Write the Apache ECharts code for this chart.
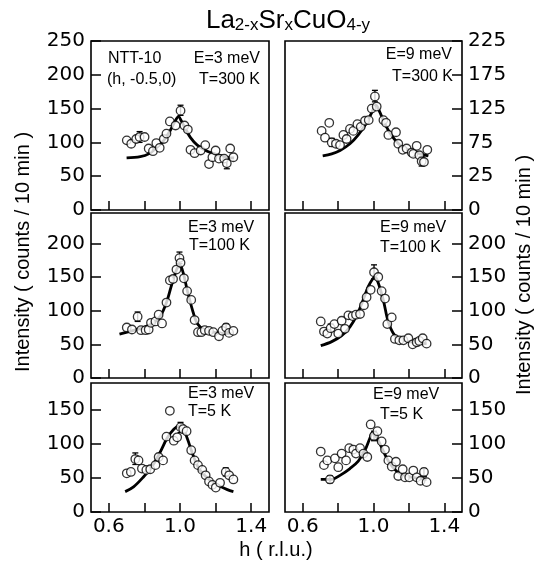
<!DOCTYPE html>
<html>
<head>
<meta charset="utf-8">
<script src="https://cdn.jsdelivr.net/npm/echarts@6/dist/echarts.min.js"></script>
<style>html,body{margin:0;padding:0;background:#fff}#c{width:536px;height:565px}</style>
</head>
<body>
<div id="c"></div>
<script>
// ---- data (h in r.l.u., intensity in counts/10 min, axis units) ----
const xTicks = [0.6, 0.8, 1.0, 1.2, 1.4];
const xLabels = [0.6, 1.0, 1.4];
const yTicksTop = [0, 50, 100, 150, 200, 250];
const yTicksMid = [0, 50, 100, 150, 200];
const yTicksBot = [0, 50, 100, 150];
const yLabelsTopRight = ['0', '25', '75', '125', '175', '225'];

// Panel TL: E=3 meV, T=300 K
const tlPoints = [[0.701,103],[0.726,98],[0.754,105],[0.773,108],[0.801,108],[0.824,91],[0.848,87],[0.867,99],[0.886,92],[0.909,105],[0.924,113],[0.943,131],[0.975,125],[1.003,147],[1.025,125],[1.044,119],[1.059,89],[1.082,84],[1.116,88],[1.142,96],[1.163,68],[1.182,78],[1.200,88],[1.219,76],[1.248,76],[1.263,69],[1.282,91],[1.300,78]];
const tlFit = [[0.70,77],[0.777,79],[0.824,83],[0.871,93],[0.909,103],[0.946,118],[0.980,135],[0.992,138],[1.007,132],[1.031,120],[1.059,107],[1.097,96],[1.153,87],[1.21,82],[1.266,78],[1.304,77]];
const tlErr = [[0.773,100,116],[1.003,140,155],[1.263,61,75]];

// Panel TR: E=9 meV, T=300 K
const trPoints = [[0.707,117],[0.726,107],[0.750,129],[0.764,100],[0.788,98],[0.811,96],[0.830,111],[0.848,105],[0.867,120],[0.886,117],[0.909,127],[0.928,123],[0.952,132],[0.973,133],[0.990,150],[1.008,168],[1.018,153],[1.056,133],[1.071,129],[1.084,111],[1.127,115],[1.140,98],[1.165,89],[1.187,91],[1.216,85],[1.225,83],[1.244,95],[1.259,81],[1.272,72],[1.285,71],[1.304,89]];
const trFit = [[0.713,80],[0.764,83],[0.811,88],[0.867,98],[0.914,111],[0.961,129],[0.990,144],[1.014,155],[1.037,144],[1.065,127],[1.103,110],[1.150,96],[1.206,88],[1.263,83],[1.310,80]];
const trErr = [[0.764,94,106],[1.008,160,177],[1.272,65,79]];

// Panel ML: E=3 meV, T=100 K
const mlPoints = [[0.701,75],[0.730,72],[0.762,91],[0.781,71],[0.807,71],[0.824,72],[0.837,82],[0.862,84],[0.880,94],[0.899,81],[0.924,112],[0.943,145],[0.961,147],[0.980,161],[0.997,178],[1.003,171],[1.022,148],[1.040,129],[1.063,116],[1.082,86],[1.101,68],[1.120,68],[1.139,71],[1.163,70],[1.187,68],[1.219,62],[1.238,70],[1.259,75],[1.276,67],[1.300,70]];
const mlFit = [[0.660,65],[0.730,70],[0.796,75],[0.852,82],[0.890,92],[0.924,112],[0.956,141],[0.984,163],[0.999,168],[1.018,156],[1.040,131],[1.069,102],[1.097,81],[1.135,72],[1.191,68],[1.248,66],[1.300,67]];
const mlErr = [[0.762,84,98],[0.997,170,187],[1.259,70,80]];

// Panel MR: E=9 meV, T=100 K
const mrPoints = [[0.702,84],[0.720,69],[0.739,66],[0.758,74],[0.779,80],[0.801,66],[0.820,85],[0.839,73],[0.858,93],[0.882,92],[0.901,94],[0.924,95],[0.946,108],[0.961,120],[0.984,131],[1.003,157],[1.027,150],[1.046,129],[1.065,118],[1.078,80],[1.103,90],[1.121,58],[1.146,56],[1.169,56],[1.197,59],[1.221,50],[1.244,53],[1.259,55],[1.278,59],[1.300,51]];
const mrFit = [[0.702,48],[0.764,54],[0.820,63],[0.867,76],[0.909,95],[0.943,117],[0.971,136],[0.995,147],[1.008,150],[1.027,141],[1.056,115],[1.084,83],[1.121,63],[1.169,56],[1.225,53],[1.300,51]];
const mrErr = [[0.758,69,80],[1.003,147,168],[1.244,48,58]];

// Panel BL: E=3 meV, T=5 K
const blPoints = [[0.701,57],[0.724,59],[0.749,78],[0.767,76],[0.786,64],[0.811,62],[0.833,63],[0.862,69],[0.880,81],[0.905,76],[0.924,111],[0.943,149],[0.965,105],[0.984,110],[1.003,125],[1.018,122],[1.037,119],[1.063,91],[1.082,76],[1.101,69],[1.125,62],[1.144,54],[1.163,45],[1.182,40],[1.201,36],[1.225,43],[1.257,59],[1.276,54],[1.300,48]];
const blFit = [[0.692,30],[0.739,37],[0.796,52],[0.843,67],[0.890,89],[0.928,109],[0.965,122],[0.993,126],[1.018,122],[1.040,109],[1.069,87],[1.106,64],[1.153,50],[1.210,40],[1.266,33],[1.300,30]];
const blErr = [[0.749,70,87],[1.003,117,132],[1.257,53,65]];

// Panel BR: E=9 meV, T=5 K
const brPoints = [[0.702,89],[0.720,69],[0.739,76],[0.754,48],[0.782,79],[0.801,66],[0.820,86],[0.845,76],[0.863,94],[0.886,92],[0.901,86],[0.924,94],[0.943,86],[0.965,81],[0.984,129],[1.003,112],[1.022,119],[1.046,104],[1.065,92],[1.084,76],[1.103,67],[1.127,74],[1.140,53],[1.165,63],[1.178,51],[1.202,51],[1.225,61],[1.244,51],[1.266,46],[1.285,59],[1.300,44]];
const brFit = [[0.702,48],[0.764,48],[0.811,54],[0.867,64],[0.914,75],[0.952,91],[0.980,109],[0.995,117],[1.014,112],[1.046,95],[1.084,75],[1.131,60],[1.187,53],[1.244,50],[1.300,48]];
const brErr = [[0.754,43,53],[1.003,105,119],[1.285,52,64]];

const panelTexts = [
  ['NTT-10', '(h, -0.5,0)', 'E=3 meV', 'T=300 K'],
  ['E=9 meV', 'T=300 K'],
  ['E=3 meV', 'T=100 K'],
  ['E=9 meV', 'T=100 K'],
  ['E=3 meV', 'T=5 K'],
  ['E=9 meV', 'T=5 K']
];

// ---- layout ----
const NUM_FONT = 'DejaVu Sans';
const TXT_FONT = 'Liberation Sans';
const cols = [{left: 91, width: 178}, {left: 285, width: 177}];
const rows = [{top: 41, height: 169, max: 250, ticks: yTicksTop},
              {top: 213, height: 165, max: 245, ticks: yTicksMid},
              {top: 383, height: 129, max: 190, ticks: yTicksBot}];
const panels = [
  {r: 0, c: 0, pts: tlPoints, fit: tlFit, err: tlErr},
  {r: 0, c: 1, pts: trPoints, fit: trFit, err: trErr},
  {r: 1, c: 0, pts: mlPoints, fit: mlFit, err: mlErr},
  {r: 1, c: 1, pts: mrPoints, fit: mrFit, err: mrErr},
  {r: 2, c: 0, pts: blPoints, fit: blFit, err: blErr},
  {r: 2, c: 1, pts: brPoints, fit: brFit, err: brErr}
];

const grid = [], xAxis = [], yAxis = [], series = [];
panels.forEach((p, i) => {
  const row = rows[p.r], col = cols[p.c];
  grid.push({left: col.left, width: col.width, top: row.top, height: row.height,
    show: true, borderColor: '#000', borderWidth: 1.6, backgroundColor: 'transparent', containLabel: false});
  xAxis.push({type: 'value', gridIndex: i, min: 0.5, max: 1.5,
    axisLine: {show: false}, splitLine: {show: false},
    axisTick: {show: true, inside: true, length: 9, customValues: xTicks, lineStyle: {color: '#000', width: 1.5}},
    axisLabel: {show: p.r === 2, customValues: xLabels, margin: 5, color: '#000',
      fontFamily: NUM_FONT, fontSize: 20, formatter: v => v.toFixed(1)}
  });
  const isTR = (p.r === 0 && p.c === 1);
  yAxis.push({type: 'value', gridIndex: i, min: 0, max: row.max,
    position: p.c === 0 ? 'left' : 'right',
    axisLine: {show: false}, splitLine: {show: false},
    axisTick: {show: true, inside: true, length: 10, customValues: row.ticks, lineStyle: {color: '#000', width: 1.5}},
    axisLabel: {show: true, customValues: row.ticks, margin: 6, color: '#000',
      fontFamily: NUM_FONT, fontSize: 20,
      formatter: v => isTR ? yLabelsTopRight[yTicksTop.indexOf(v)] : String(v)}
  });
  series.push({type: 'line', xAxisIndex: i, yAxisIndex: i, data: p.fit, smooth: 0.35,
    showSymbol: false, lineStyle: {color: '#000', width: 2.8}, z: 1, silent: true});
  series.push({type: 'custom', xAxisIndex: i, yAxisIndex: i, data: p.err, z: 2,
    encode: {x: 0, y: [1, 2]},
    renderItem: (params, api) => {
      const x = api.value(0), lo = api.value(1), hi = api.value(2);
      const a = api.coord([x, lo]), b = api.coord([x, hi]);
      const w = 3, st = {stroke: '#000', lineWidth: 1.3};
      return {type: 'group', children: [
        {type: 'line', shape: {x1: a[0], y1: a[1], x2: b[0], y2: b[1]}, style: st},
        {type: 'line', shape: {x1: b[0] - w, y1: b[1], x2: b[0] + w, y2: b[1]}, style: st},
        {type: 'line', shape: {x1: a[0] - w, y1: a[1], x2: a[0] + w, y2: a[1]}, style: st}
      ]};
    }});
  series.push({type: 'scatter', xAxisIndex: i, yAxisIndex: i, data: p.pts, symbol: 'circle', symbolSize: 8.5,
    itemStyle: {color: '#fff', borderColor: '#000', borderWidth: 1.3}, z: 3, silent: true});
});

const txt = (x, y, text, align, size, font) => ({type: 'text', x: x, y: y, silent: true,
  style: {text: text, fill: '#000', font: (size || 16) + 'px "' + (font || TXT_FONT) + '"',
    textAlign: align || 'left', textVerticalAlign: 'middle'}});

const graphic = [
  {type: 'text', x: 288, y: 20, silent: true,
   style: {text: '{m|La}{s|2-x}{m|Sr}{s|x}{m|CuO}{s|4-y}', textAlign: 'center', textVerticalAlign: 'middle',
     rich: {m: {fontSize: 26, fontFamily: TXT_FONT, fill: '#000', lineHeight: 28, verticalAlign: 'bottom'},
            s: {fontSize: 17, fontFamily: TXT_FONT, fill: '#000', lineHeight: 14, verticalAlign: 'bottom'}}}},
  txt(108, 59, panelTexts[0][0], 'left'),
  txt(107, 80, panelTexts[0][1], 'left'),
  txt(260, 59, panelTexts[0][2], 'right'),
  txt(260, 80, panelTexts[0][3], 'right'),
  txt(452, 55, panelTexts[1][0], 'right'),
  txt(453, 77, panelTexts[1][1], 'right'),
  txt(188, 228, panelTexts[2][0], 'left'),
  txt(189, 246, panelTexts[2][1], 'left'),
  txt(380, 228, panelTexts[3][0], 'left'),
  txt(380, 248, panelTexts[3][1], 'left'),
  txt(188, 394, panelTexts[4][0], 'left'),
  txt(188, 412, panelTexts[4][1], 'left'),
  txt(373, 395, panelTexts[5][0], 'left'),
  txt(380, 415, panelTexts[5][1], 'left'),
  txt(276, 550, 'h ( r.l.u.)', 'center', 20),
  {type: 'text', x: 23, y: 252, rotation: Math.PI / 2, silent: true,
   style: {text: 'Intensity ( counts / 10 min )', fill: '#000', font: '20px "' + TXT_FONT + '"',
     textAlign: 'center', textVerticalAlign: 'middle'}},
  {type: 'text', x: 524, y: 275, rotation: Math.PI / 2, silent: true,
   style: {text: 'Intensity ( counts / 10 min )', fill: '#000', font: '20px "' + TXT_FONT + '"',
     textAlign: 'center', textVerticalAlign: 'middle'}}
];

const chart = echarts.init(document.getElementById('c'), null, {renderer: 'canvas'});
chart.setOption({animation: false, backgroundColor: '#fff', grid, xAxis, yAxis, series, graphic});
</script>
</body>
</html>
